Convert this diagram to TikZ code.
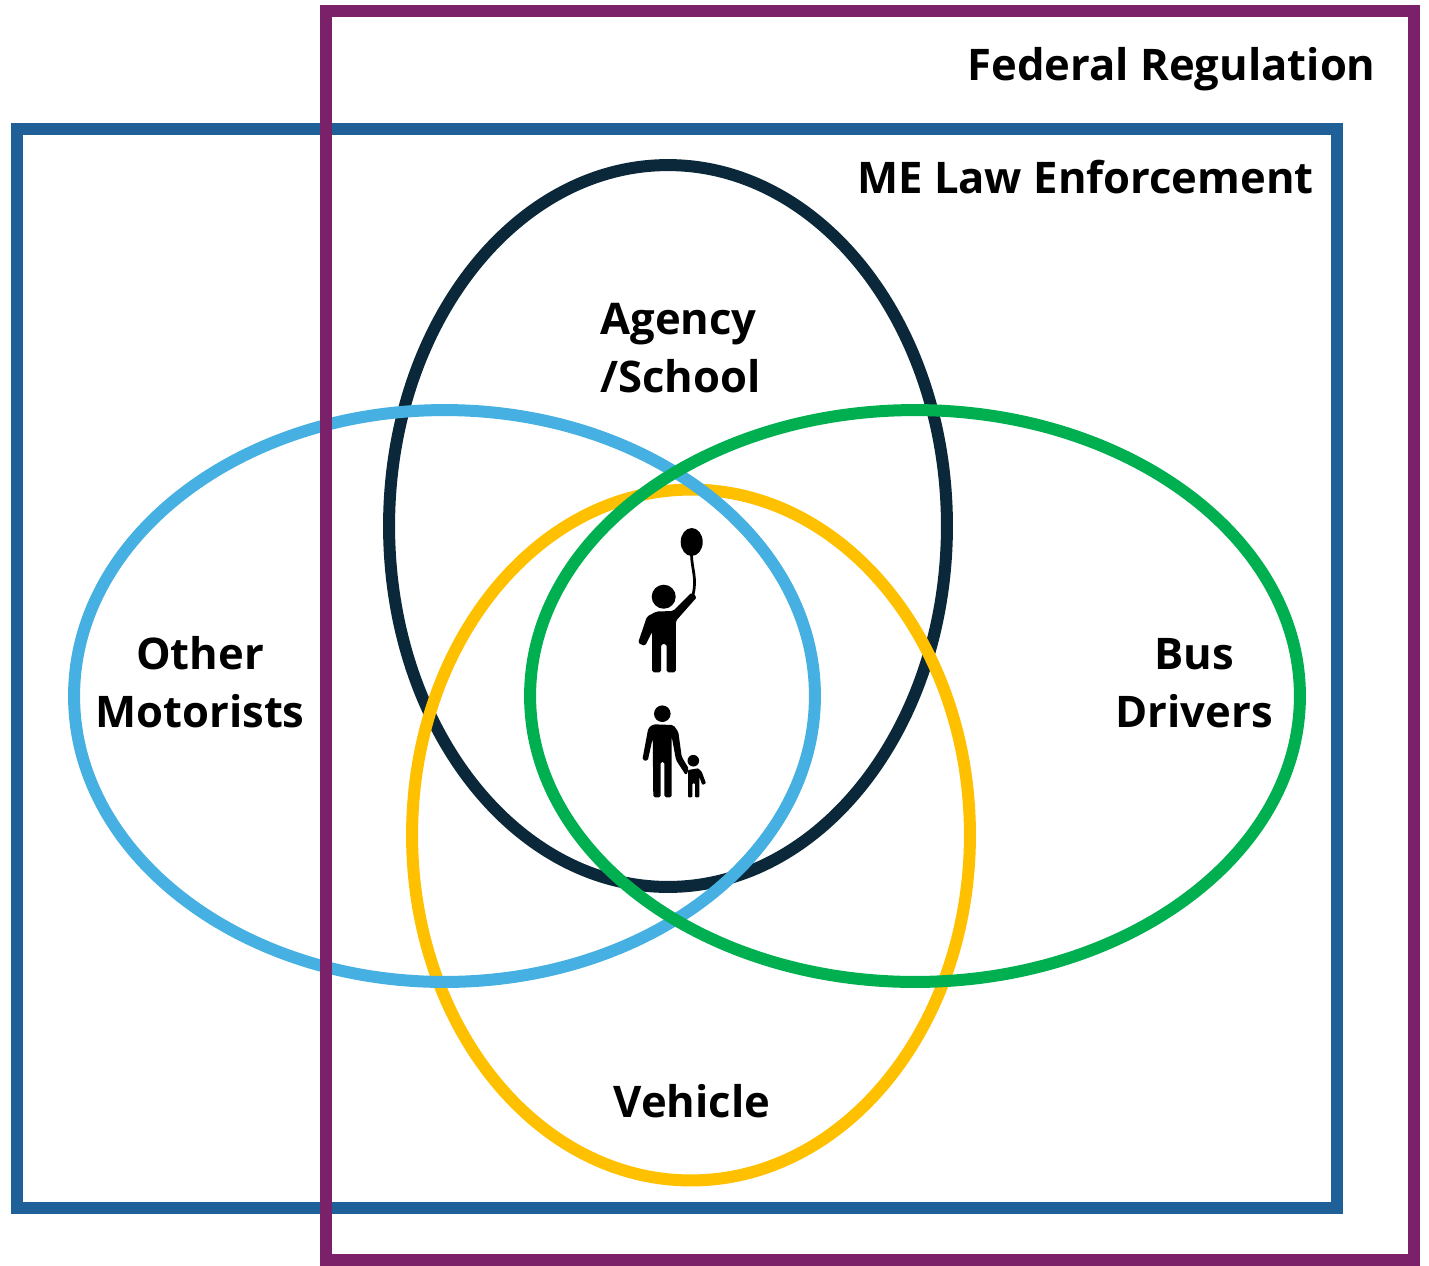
\documentclass[tikz,border=0pt]{standalone}
\usepackage{fontspec}
\setmainfont{Open Sans}
\usetikzlibrary{shapes.geometric, positioning}
\definecolor{fedpurple}{HTML}{7B2169}
\definecolor{meblue}{HTML}{1F6099}
\definecolor{agencynavy}{HTML}{0A2839}
\definecolor{motoristblue}{HTML}{45B0E1}
\definecolor{busgreen}{HTML}{00B050}
\definecolor{vehicleyellow}{HTML}{FFC000}

\begin{document}
\begin{tikzpicture}[
    x=0.02cm, y=-0.02cm,
    venn/.style={ellipse, draw, line width=0.24cm, inner sep=0pt, outer sep=0pt},
    frame/.style={rectangle, draw, line width=0.24cm, inner sep=0pt, outer sep=0pt},
    title/.style={font=\fontsize{24.8}{33}\selectfont\bfseries, align=center, text=black, inner sep=0pt},
    figure/.style={fill=black, draw=none}
]
    \useasboundingbox (0,0) rectangle (1429,1265);
    % Frames
    \node (law) [frame, meblue, minimum width=26.4cm, minimum height=21.58cm] at (677,668.5) {};
    % Ellipses
    \node (agency) [venn, agencynavy, minimum width=11.16cm, minimum height=14.44cm] at (668,526) {};
    \node (vehicle) [venn, vehicleyellow, minimum width=11.16cm, minimum height=13.82cm] at (691,835) {};
    \node (motorists) [venn, motoristblue, minimum width=14.82cm, minimum height=11.44cm] at (444.5,696) {};
    \node (drivers) [venn, busgreen, minimum width=15.4cm, minimum height=11.44cm] at (915,696) {};
    \node (federal) [frame, fedpurple, minimum width=21.76cm, minimum height=24.98cm] at (870,635.5) {};
    % Labels
    \node (federaltxt) [title, anchor=base east] at (1376,80) {Federal Regulation};
    \node (lawtxt) [title, anchor=base east] at (1314,193) {ME Law Enforcement};
    \node (agencytxt) [title, align=left] at (680.5,348) {Agency\\/School};
    \node (motoriststxt) [title] at (200,682) {Other\\Motorists};
    \node (driverstxt) [title] at (1194,683) {Bus\\Drivers};
    \node (vehicletxt) [title, anchor=base] at (692,1117) {Vehicle};
    % Child with balloon
    \fill [figure] (691.7,542) ellipse (11 and 14);
    \draw [black, line width=0.055cm] (691.5,555) .. controls (692,570) and (697,578) .. (693,595);
    \fill [figure] (663.7,596.7) circle (12);
    \fill [figure, rounded corners=1pt] (647,616.5) -- (656.5,611.5) -- (673,611) -- (691.5,592.5) -- (697,597) -- (675.8,621) -- (675.8,672.3) -- (666.7,672.3) -- (666.7,644) -- (661,644) -- (661,672.3) -- (652.2,672.3) -- (652.2,631.7) -- (645,646) -- (638,643) -- cycle;
    % Adult and small child
    \fill [figure] (662.3,713.7) circle (8.3);
    \fill [figure, rounded corners=1pt] (648.3,728) -- (653.3,724.3) -- (673.3,725) -- (678.3,731.7) -- (681.7,756.7) -- (689,769) -- (686,775.5) -- (676,760) -- (671.7,736.7) -- (671.7,797.3) -- (664.3,797.3) -- (664.3,761.7) -- (660.7,761.7) -- (660.7,797.3) -- (653.3,797.3) -- (652.7,738) -- (647.7,761) -- (642.3,760) -- cycle;
    \fill [figure] (693.3,760.7) circle (5.8);
    \fill [figure, rounded corners=0.5pt] (688,770) -- (698.3,768.3) -- (701.7,771.7) -- (706,783.3) -- (702.3,785) -- (699.3,776.7) -- (699.3,797.3) -- (695,797.3) -- (695,783.3) -- (692.3,783.3) -- (692.3,797.3) -- (688,797.3) -- cycle;
\end{tikzpicture}
\end{document}
